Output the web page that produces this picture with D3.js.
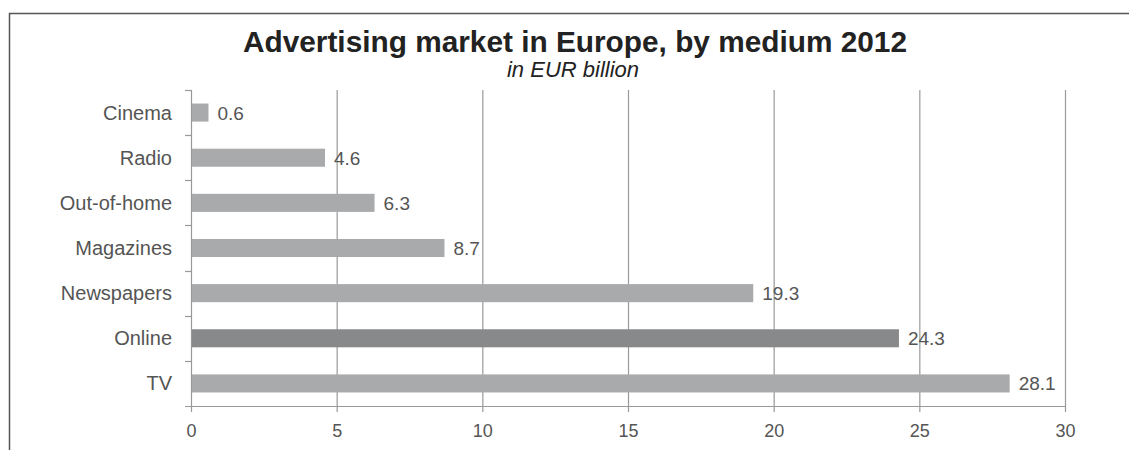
<!DOCTYPE html>
<html><head><meta charset="utf-8">
<script src="https://cdn.jsdelivr.net/npm/d3@7"></script>
<style>body{margin:0;background:#fff;} svg{display:block;font-family:"Liberation Sans",Arial,sans-serif;}</style>
</head><body>
<svg id="c" width="1129" height="450"></svg>
<script>
const categories = ["Cinema","Radio","Out-of-home","Magazines","Newspapers","Online","TV"];
const values = [0.6,4.6,6.3,8.7,19.3,24.3,28.1];
const highlight = ["Online"];
const tickValues = [0,5,10,15,20,25,30];
const title = "Advertising market in Europe, by medium 2012";
const subtitle = "in EUR billion";

const svg = d3.select("#c");
// frame
svg.append("path").attr("d","M9.5,450 V13.5 H1129").attr("fill","none").attr("stroke","#555").attr("stroke-width",1.5);

svg.append("text").attr("x",575).attr("y",52).attr("text-anchor","middle")
  .attr("font-size",29.8).attr("font-weight","bold").attr("fill","#222").text(title);
svg.append("text").attr("x",573).attr("y",77).attr("text-anchor","middle")
  .attr("font-size",22).attr("font-style","italic").attr("fill","#222").text(subtitle);

const x = d3.scaleLinear().domain([0,30]).range([191,1065]);
const y = d3.scaleBand().domain(categories).range([90,406]).paddingInner(0.6).paddingOuter(0.3);

// gridlines
svg.append("g").selectAll("line").data(tickValues.filter(d=>d>0)).join("line")
  .attr("x1",d=>x(d)+0.5).attr("x2",d=>x(d)+0.5).attr("y1",90).attr("y2",406)
  .attr("stroke","#999").attr("stroke-width",1.2);

// y axis line with band ticks
const yAxisG = svg.append("g").attr("stroke","#999").attr("stroke-width",1.2);
yAxisG.append("line").attr("x1",191.5).attr("x2",191.5).attr("y1",90).attr("y2",406);
const bandEdges = categories.map(c=>y(c)-y.step()*y.paddingInner()/2);
yAxisG.selectAll("line.t").data(bandEdges).join("line").attr("class","t")
  .attr("x1",185).attr("x2",191.5).attr("y1",d=>Math.round(d)+0.5).attr("y2",d=>Math.round(d)+0.5);

// bars
svg.append("g").selectAll("rect").data(categories).join("rect")
  .attr("x",x(0)+1).attr("y",d=>y(d)).attr("height",y.bandwidth())
  .attr("width",(d,i)=>x(values[i])-x(0)-1)
  .attr("fill",d=>highlight.includes(d)?"#88898b":"#a9aaac");

// value labels
svg.append("g").selectAll("text").data(categories).join("text")
  .attr("x",(d,i)=>x(values[i])+9).attr("y",d=>y(d)+y.bandwidth()/2+7)
  .attr("font-size",19).attr("fill","#555").text((d,i)=>values[i].toFixed(1));

// category labels
svg.append("g").selectAll("text").data(categories).join("text")
  .attr("x",172).attr("y",d=>y(d)+y.bandwidth()/2+7).attr("text-anchor","end")
  .attr("font-size",20).attr("fill","#555").text(d=>d);

// x axis
const xAxis = d3.axisBottom(x).tickValues(tickValues).tickSize(6).tickPadding(12).tickSizeOuter(0);
const gx = svg.append("g").attr("transform","translate(0,406)").call(xAxis);
gx.select(".domain").remove();
gx.append("line").attr("x1",185).attr("x2",1065.5).attr("y1",0.5).attr("y2",0.5).attr("stroke","#999").attr("stroke-width",1.2);
gx.selectAll(".tick line").attr("stroke","#999").attr("stroke-width",1.2);
gx.selectAll(".tick text").attr("font-size",18).attr("fill","#555").attr("font-family","Liberation Sans, Arial, sans-serif");
</script>
</body></html>
